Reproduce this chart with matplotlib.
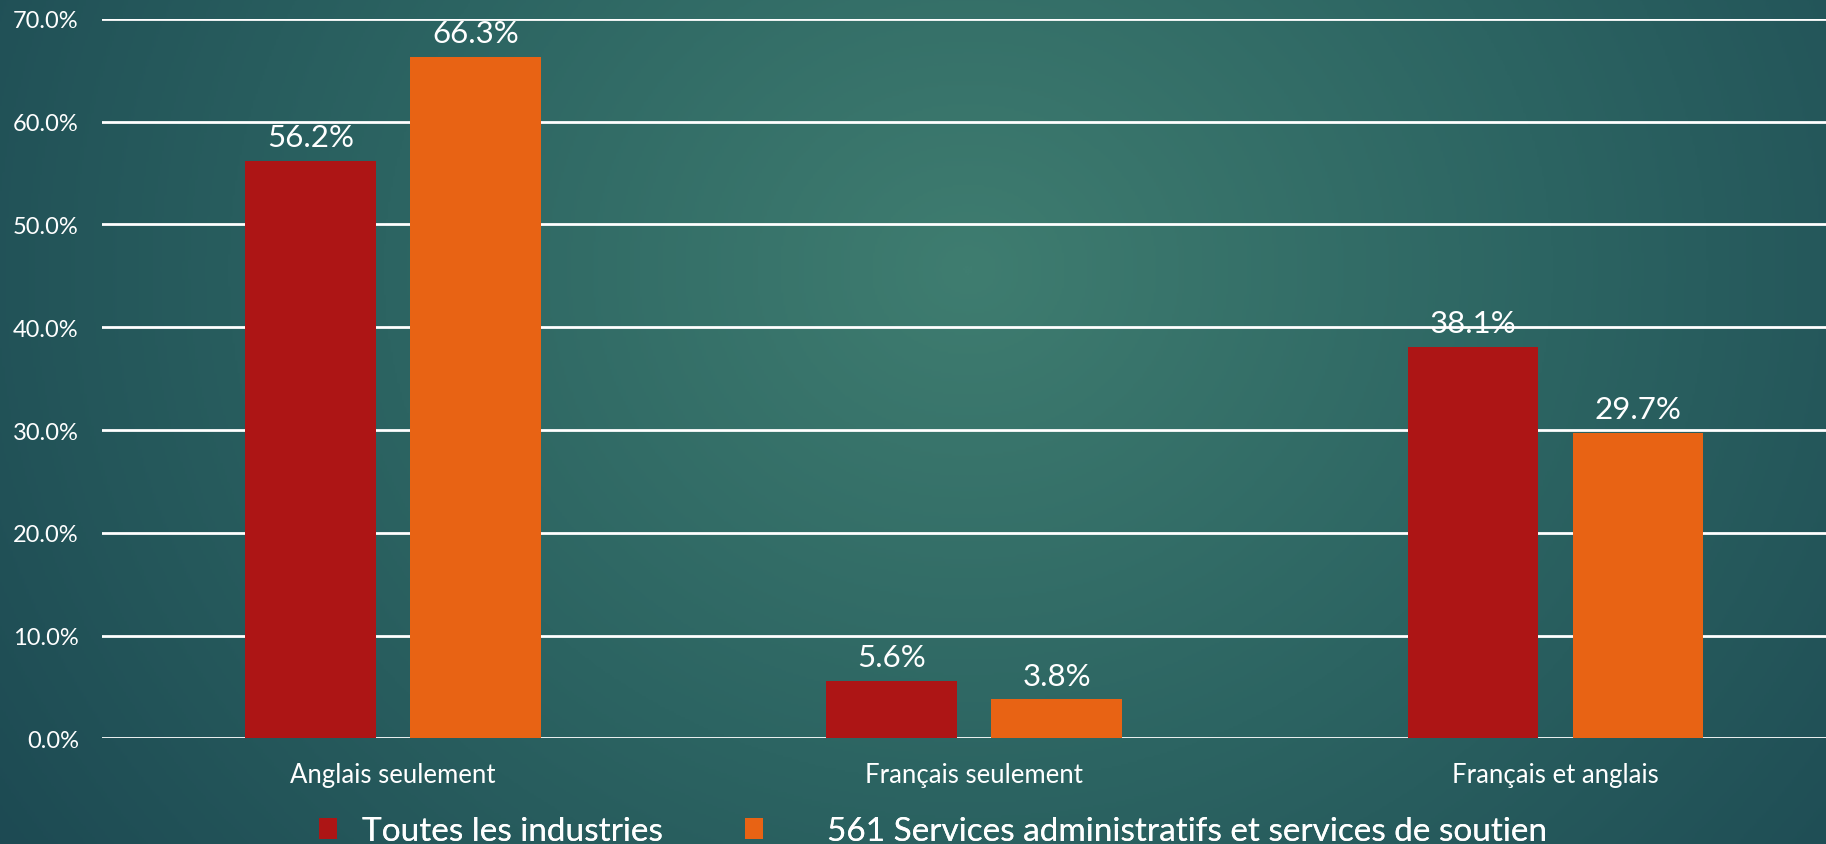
import numpy as np
import matplotlib.pyplot as plt
from matplotlib.ticker import PercentFormatter
from matplotlib.colors import LinearSegmentedColormap
from matplotlib.patches import Patch

# Données
categories = ['Anglais seulement', 'Français seulement', 'Français et anglais']
toutes = [0.562, 0.056, 0.381]
services = [0.663, 0.038, 0.297]
series_names = ['Toutes les industries', '561 Services administratifs et services de soutien']
colors = ['#AD1515', '#E86314']

plt.rcParams['font.family'] = ['Lato', 'DejaVu Sans']

fig = plt.figure(figsize=(18.26, 8.45), dpi=100)

# fond en dégradé radial
bg = fig.add_axes([0, 0, 1, 1], zorder=-10)
yy, xx = np.mgrid[0:1:400j, 0:1:800j]
d = np.sqrt(((xx - 0.53) * 1.9) ** 2 + ((yy - 0.32) * 1.0) ** 2)
d = np.clip(d / d.max(), 0, 1)
cmap = LinearSegmentedColormap.from_list('bg', ['#3f7d70', '#2c6462', '#1d4a53'])
bg.imshow(d, cmap=cmap, aspect='auto', extent=[0, 1, 1, 0])
bg.axis('off')

# l'axe déborde à droite de la figure
ax = fig.add_axes([0.0561, 0.1249, 0.9548, 0.8517])
ax.set_facecolor('none')

x = np.arange(len(categories))
w = 0.2244
off = 0.142
for i, (vals, c) in enumerate(zip([toutes, services], colors)):
    bars = ax.bar(x + (i * 2 - 1) * off, vals, w, color=c, zorder=3)
    for b, v in zip(bars, vals):
        ax.annotate(f'{v * 100:.1f}%', (b.get_x() + b.get_width() / 2, v),
                    xytext=(0, 7), textcoords='offset points', ha='center', va='bottom',
                    color='white', fontsize=22.5, zorder=5, annotation_clip=False)

ax.set_xlim(-0.5, 2.5)
ax.set_ylim(0, 0.70)
ax.set_yticks(np.arange(0, 0.71, 0.1))
ax.yaxis.set_major_formatter(PercentFormatter(1.0, decimals=1))
ax.set_xticks(x)
ax.set_xticklabels(categories)
ax.tick_params(axis='y', length=0, pad=17, labelsize=17, labelcolor='white')
ax.tick_params(axis='x', length=0, pad=17, labelsize=18.5, labelcolor='white')
ax.grid(axis='y', color='white', linewidth=2, zorder=1)
for s in ax.spines.values():
    s.set_visible(False)

# légende : deux entrées placées séparément
for name, c, xpos, pad in zip(series_names, colors, [0.1745, 0.408], [0.75, 1.9]):
    h = Patch(facecolor=c, edgecolor='none')
    lg = fig.legend([h], [name], loc='center left', bbox_to_anchor=(xpos, 0.015),
                    frameon=False, fontsize=24, labelcolor='white', handlelength=0.55,
                    handleheight=0.55, handletextpad=pad,
                    borderpad=0, borderaxespad=0)
    fig.add_artist(lg)

fig.savefig('out.png', dpi=100)
